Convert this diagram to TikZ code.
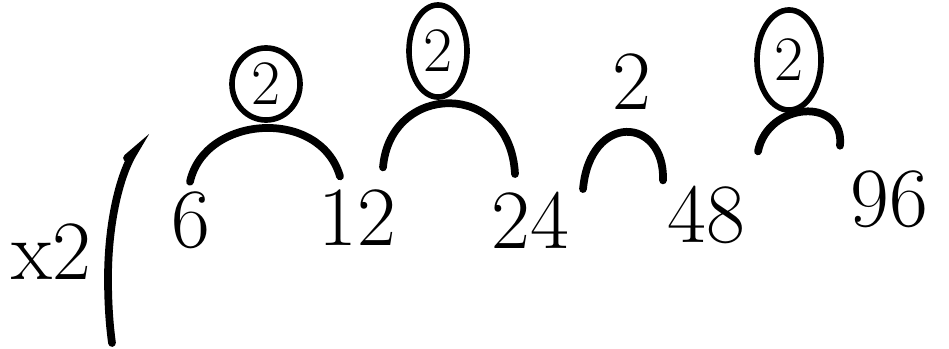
\documentclass[tikz,border=0pt]{standalone}
\usetikzlibrary{positioning,calc,shapes.geometric}
\tikzset{
  num/.style  ={inner sep=0pt, font=\fontsize{24}{28}\selectfont},
  ring/.style ={ellipse, draw, line width=1.6pt, inner sep=0pt,
                font=\fontsize{18}{22}\selectfont},
  hop/.style  ={line width=2.2pt, line cap=round},
}

\begin{document}
\begin{tikzpicture}[x=0.01cm, y=0.01cm]
  \useasboundingbox (0,0) rectangle (949,348);

  % the doubling row
  \node[num] (times) at (51,96)  {x2};
  \node[num] (n6)    at (191,128) {6};
  \node[num] (n12)   at (357,130) {12};
  \node[num] (n24)   at (530,128) {24};
  \node[num] (n48)   at (706,133) {48};
  \node[num] (n96)   at (889,149) {96};

  % bar after x2
  \draw[hop] (127,190) -- (134,196) .. controls (118,170) and (108,120) .. (108,70)
             .. controls (108,40) and (110,20) .. (112,5);

  % factors above the hops
  \node[ring, minimum width=0.68cm, minimum height=0.72cm] (r1) at (266,264) {2};
  \node[ring, minimum width=0.58cm, minimum height=0.92cm] (r2) at (438,297) {2};
  \node[num] (l3) at (632,266) {2};
  \node[ring, minimum width=0.64cm, minimum height=1.00cm] (r4) at (789,288) {2};

  % hops between neighbours
  \draw[hop] ($(n6.north)+(-1,9)$) .. controls +(15,67) and +(-20,69) .. ($(n12.north)+(-17,13)$);
  \draw[hop] ($(n12.north)+(26,22)$) .. controls +(7,85) and +(-5,95) .. ($(n24.north)+(-15,17)$);
  \draw[hop] ($(n24.north)+(53,2)$) .. controls +(7,77) and +(2,64) .. ($(n48.north)+(-43,5)$);
  \draw[hop] ($(n48.north)+(52,34)$) .. controls +(10,50) and +(5,49) .. ($(n96.north)+(-49,24)$);
\end{tikzpicture}
\end{document}
